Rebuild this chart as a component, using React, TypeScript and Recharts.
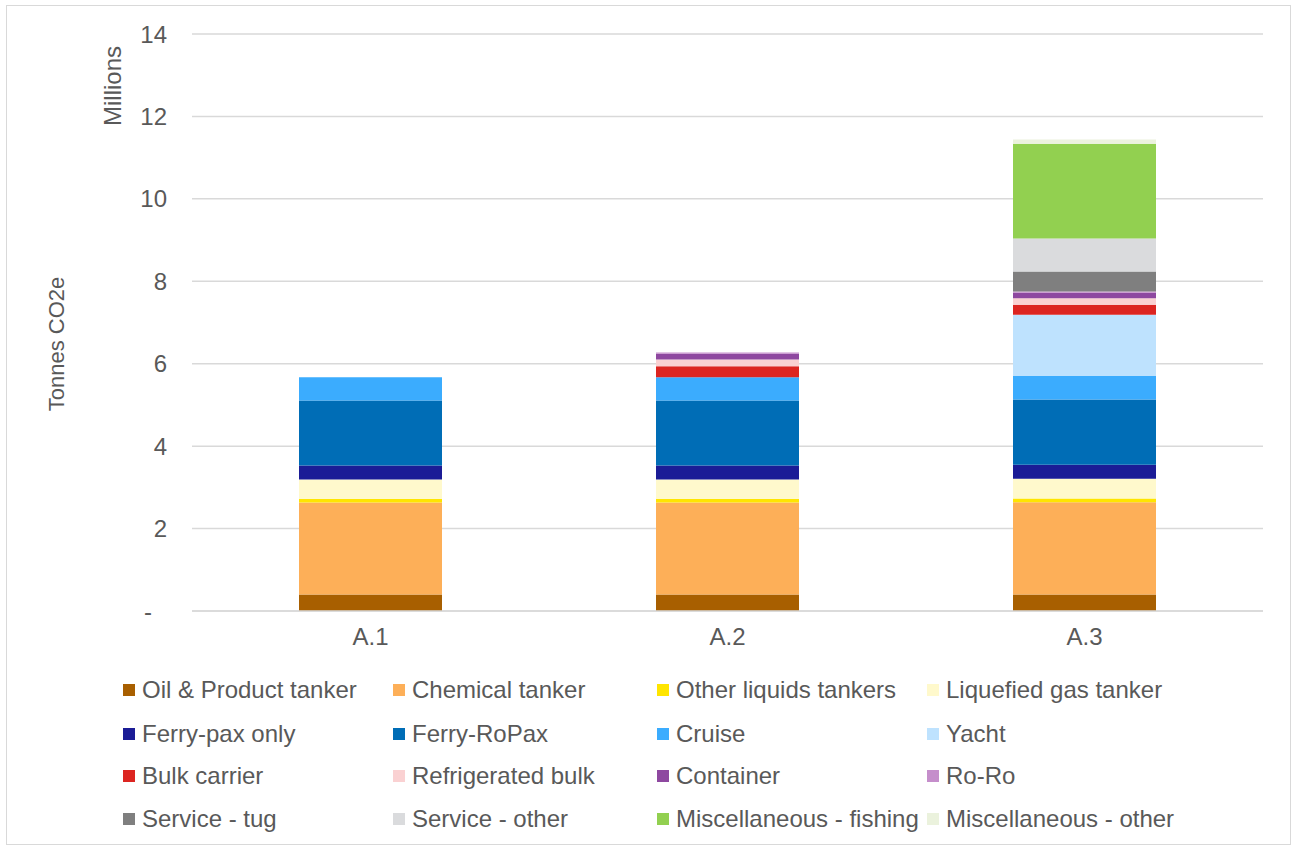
import React from 'react';
import { BarChart, Bar, XAxis, YAxis, CartesianGrid } from 'recharts';

const categories = ['A.1', 'A.2', 'A.3'];

const oilProduct = [0.4, 0.4, 0.4];
const chemical = [2.23, 2.23, 2.24];
const otherLiquids = [0.09, 0.09, 0.09];
const liquefiedGas = [0.47, 0.47, 0.48];
const ferryPax = [0.34, 0.34, 0.34];
const ferryRoPax = [1.58, 1.58, 1.58];
const cruise = [0.56, 0.56, 0.57];
const yacht = [0, 0, 1.49];
const bulkCarrier = [0, 0.27, 0.24];
const refrigeratedBulk = [0, 0.16, 0.16];
const container = [0, 0.14, 0.13];
const roRo = [0, 0.03, 0.03];
const serviceTug = [0, 0, 0.49];
const serviceOther = [0, 0, 0.8];
const miscFishing = [0, 0, 2.3];
const miscOther = [0, 0, 0.1];

const yTicks = [0, 2, 4, 6, 8, 10, 12, 14];

const series = [
  { key: 'oil', name: 'Oil & Product tanker', values: oilProduct, color: '#A85F00' },
  { key: 'chem', name: 'Chemical tanker', values: chemical, color: '#FDAF58' },
  { key: 'othliq', name: 'Other liquids tankers', values: otherLiquids, color: '#FFE500' },
  { key: 'lng', name: 'Liquefied gas tanker', values: liquefiedGas, color: '#FFF9CC' },
  { key: 'fpax', name: 'Ferry-pax only', values: ferryPax, color: '#1B1C96' },
  { key: 'fropax', name: 'Ferry-RoPax', values: ferryRoPax, color: '#006DB6' },
  { key: 'cruise', name: 'Cruise', values: cruise, color: '#3BACFE' },
  { key: 'yacht', name: 'Yacht', values: yacht, color: '#BEE2FE' },
  { key: 'bulk', name: 'Bulk carrier', values: bulkCarrier, color: '#DC2521' },
  { key: 'refbulk', name: 'Refrigerated bulk', values: refrigeratedBulk, color: '#FAD1D2' },
  { key: 'cont', name: 'Container', values: container, color: '#8E48A0' },
  { key: 'roro', name: 'Ro-Ro', values: roRo, color: '#C58ECB' },
  { key: 'tug', name: 'Service - tug', values: serviceTug, color: '#7F7F7F' },
  { key: 'svcoth', name: 'Service - other', values: serviceOther, color: '#DADBDD' },
  { key: 'fish', name: 'Miscellaneous - fishing', values: miscFishing, color: '#92D050' },
  { key: 'miscoth', name: 'Miscellaneous - other', values: miscOther, color: '#EBF2DD' },
];

const data = categories.map((c, i) => {
  const row: Record<string, string | number> = { category: c };
  series.forEach((s) => {
    row[s.key] = s.values[i];
  });
  return row;
});

const FONT = '"Liberation Sans", Arial, sans-serif';
const TEXT = '#595959';
const FS = 24;

const YTick = (props: any) => {
  const { x, y, payload } = props;
  const isZero = payload.value === 0;
  return (
    <text
      x={isZero ? x - 15 : x}
      y={y}
      dy="0.355em"
      textAnchor="end"
      fill={TEXT}
      fontSize={FS}
      fontFamily={FONT}
    >
      {isZero ? '-' : String(payload.value)}
    </text>
  );
};

const legendCols = [123, 393, 657, 927];
const legendRows = [690, 734, 776, 819];

export default function App() {
  return (
    <div
      style={{
        position: 'absolute',
        left: 0,
        top: 0,
        width: 1299,
        height: 849,
        background: '#fff',
        fontFamily: FONT,
      }}
    >
      <div
        style={{
          position: 'absolute',
          left: 6,
          top: 5,
          width: 1285,
          height: 840,
          border: '1.5px solid #D9D9D9',
          boxSizing: 'border-box',
        }}
      />
      <div style={{ position: 'absolute', left: 0, top: 0 }}>
        <BarChart
          width={1299}
          height={650}
          data={data}
          margin={{ top: 34, right: 36, left: 0, bottom: 0 }}
          barSize={143}
        >
          <CartesianGrid vertical={false} stroke="#D9D9D9" strokeWidth={1.5} />
          <XAxis
            dataKey="category"
            height={39}
            tickLine={false}
            tickSize={0}
            tickMargin={17}
            axisLine={{ stroke: '#D9D9D9', strokeWidth: 1.5 }}
            tick={{ fill: TEXT, fontSize: FS, fontFamily: FONT }}
          />
          <YAxis
            width={192}
            domain={[0, 14]}
            ticks={yTicks}
            interval={0}
            axisLine={false}
            tickLine={false}
            tickSize={0}
            tickMargin={25}
            tick={<YTick />}
          />
          {series.map((s) => (
            <Bar
              key={s.key}
              dataKey={s.key}
              name={s.name}
              stackId="a"
              fill={s.color}
              isAnimationActive={false}
            />
          ))}
        </BarChart>
      </div>
      <div
        style={{
          position: 'absolute',
          left: 57,
          top: 344,
          transform: 'translate(-50%, -50%) rotate(-90deg)',
          whiteSpace: 'nowrap',
          fontSize: 22,
          color: TEXT,
        }}
      >
        Tonnes CO2e
      </div>
      <div
        style={{
          position: 'absolute',
          left: 113,
          top: 86,
          transform: 'translate(-50%, -50%) rotate(-90deg)',
          whiteSpace: 'nowrap',
          fontSize: FS,
          color: TEXT,
        }}
      >
        Millions
      </div>
      {series.map((s, i) => {
        const col = i % 4;
        const row = Math.floor(i / 4);
        return (
          <div
            key={s.key}
            style={{
              position: 'absolute',
              left: legendCols[col],
              top: legendRows[row] - 14,
              height: 28,
              display: 'flex',
              alignItems: 'center',
              whiteSpace: 'nowrap',
              fontSize: FS,
              color: TEXT,
            }}
          >
            <span
              style={{
                display: 'inline-block',
                width: 12,
                height: 12,
                background: s.color,
                marginRight: 7,
              }}
            />
            <span>{s.name}</span>
          </div>
        );
      })}
    </div>
  );
}
